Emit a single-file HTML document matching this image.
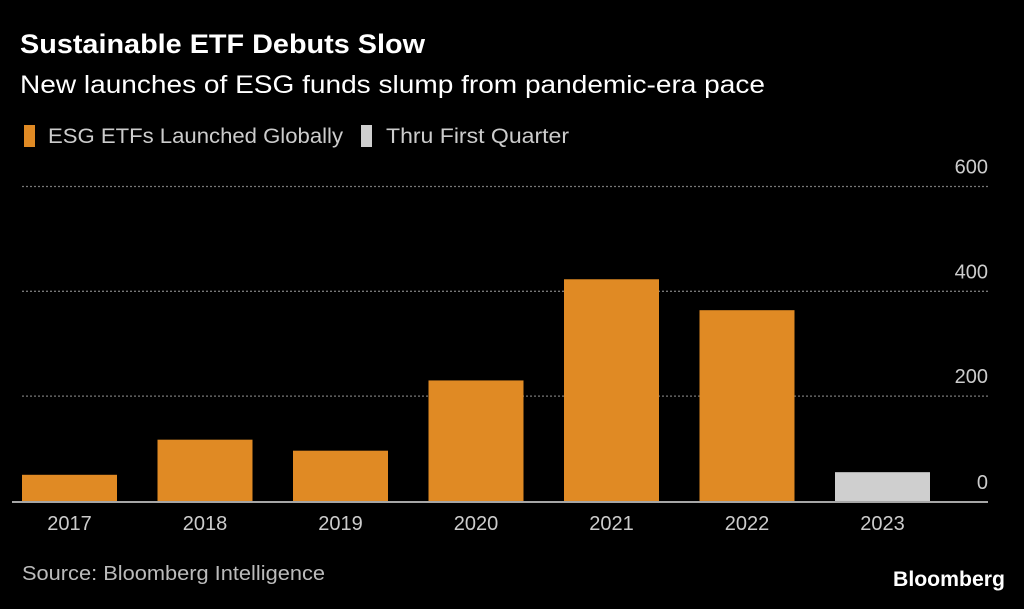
<!DOCTYPE html>
<html><head><meta charset="utf-8"><style>
body{margin:0;background:#000;width:1024px;height:604px;overflow:hidden;font-family:"Liberation Sans",sans-serif;color:#fff}
</style></head><body>
<svg width="1024" height="604" xmlns="http://www.w3.org/2000/svg">
<text x="20" y="53" font-size="27" font-weight="bold" fill="#fff" textLength="405" lengthAdjust="spacingAndGlyphs">Sustainable ETF Debuts Slow</text>
<text x="20" y="93" font-size="25" fill="#fff" textLength="745" lengthAdjust="spacingAndGlyphs">New launches of ESG funds slump from pandemic-era pace</text>
<rect x="24" y="125" width="11" height="22" fill="#e08a24"/>
<text x="48" y="143" font-size="21" fill="#ccc" textLength="295" lengthAdjust="spacingAndGlyphs">ESG ETFs Launched Globally</text>
<rect x="361" y="125" width="11" height="22" fill="#cfcfcf"/>
<text x="386" y="143" font-size="21" fill="#ccc" textLength="183" lengthAdjust="spacingAndGlyphs">Thru First Quarter</text>
<g id="grid"></g><g id="bars"></g><g id="xl"></g>
<text x="22" y="580" font-size="20" fill="#bbb" textLength="303" lengthAdjust="spacingAndGlyphs">Source: Bloomberg Intelligence</text>
<text x="1005" y="586" font-size="21" font-weight="bold" fill="#fff" text-anchor="end" textLength="112" lengthAdjust="spacingAndGlyphs">Bloomberg</text>
</svg>
<script>
const categories=["2017","2018","2019","2020","2021","2022","2023"];
const values=[50,117,96,230,423,364,55];
const partial=[false,false,false,false,false,false,true];
const ticks=[0,200,400,600];
const NS="http://www.w3.org/2000/svg";
const y=v=>501-v*0.5242;
const x=i=>22+i*135.5;
const bw=95;
function mk(t,a,p,txt){const e=document.createElementNS(NS,t);for(const k in a)e.setAttribute(k,a[k]);if(txt!==undefined)e.textContent=txt;document.getElementById(p).appendChild(e);return e;}
ticks.forEach(t=>{
 if(t>0){const l=mk('line',{x1:22,x2:988,y1:y(t),y2:y(t),stroke:'#777','stroke-width':1.3,'stroke-dasharray':'2,2'},'grid');
 
 }
 const tx=mk('text',{x:988,y:y(t)-(t===0?12:13),'font-size':20,fill:'#ccc','text-anchor':'end'},'grid',String(t));
 
 
});
const base=mk('line',{x1:12,x2:988,y1:502,y2:502,stroke:'#ddd','stroke-width':1.5},'grid');


categories.forEach((c,i)=>{
 const r=mk('rect',{x:x(i),y:y(values[i]),width:bw,height:501-y(values[i]),fill:partial[i]?'#cfcfcf':'#e08a24'},'bars');
 
 
 const t=mk('text',{x:x(i)+bw/2,y:530,'font-size':20,fill:'#ccc','text-anchor':'middle'},'xl',c);
 
 
});
</script>
</body></html>
